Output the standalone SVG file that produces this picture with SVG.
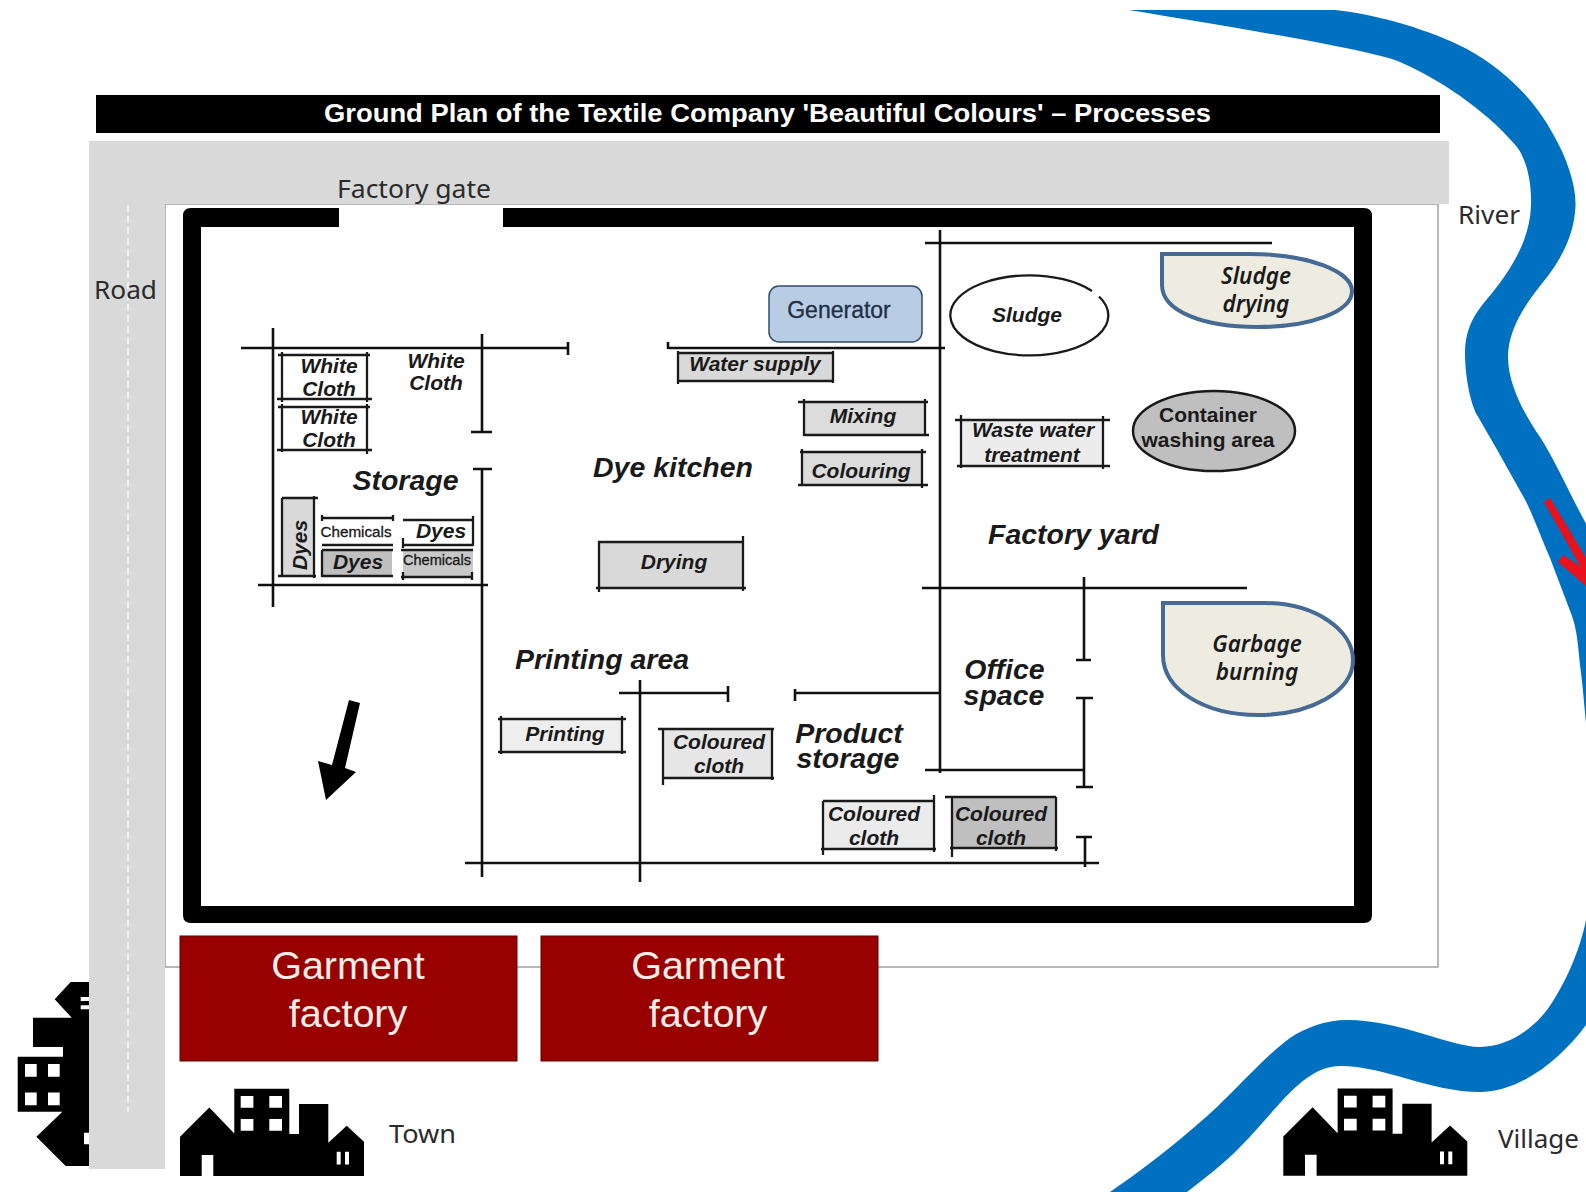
<svg xmlns="http://www.w3.org/2000/svg" xmlns:xlink="http://www.w3.org/1999/xlink" width="1586" height="1192" viewBox="0 0 1586 1192">
<style>
.s{font-family:"Liberation Sans",Arial,sans-serif;font-weight:700;font-style:italic;fill:#1a1a1a;font-size:21px;text-anchor:middle}
.l{font-size:28.5px}
.u{font-style:normal}
.c{font-family:"Noto Sans","Open Sans",sans-serif;font-size:26px;fill:#2b2b2b}
.n{font-family:"Noto Sans","Open Sans",sans-serif;font-weight:600;font-style:italic;font-size:22.5px;fill:#1a1a1a;text-anchor:middle}
.g{font-family:"Liberation Sans",Arial,sans-serif;font-size:39.5px;fill:#fbeee8;text-anchor:middle}
.w{fill:none;stroke:#111;stroke-width:2.6}
.k{fill:none;stroke:#1a1a1a;stroke-width:2.3}
.t{fill:#eeece1;stroke:#456a96;stroke-width:4}
.f{fill:#990000;stroke:#5c0000;stroke-width:1}
</style>
<defs>
<g id="town">
<path fill="#000" d="M0 87.3V48L29.3 18.7 54.3 44.7V0H109.3V45.3H119V15.3H148.3V54L166.7 37 184 53V87.3H33.3V66.3H21.7V87.3Z"/>
<path fill="#fff" d="M60.7 7.3h12.7v11.700h-12.700zM89.3 7.3h12.700v11.700h-12.700zM60.7 30.300h12.700v11.700h-12.700zM89.3 30.300h12.700v11.700h-12.700zM156.7 63h4v12.700h-4zM165 63h4v12.700h-4z"/>
</g>
</defs>
<rect width="1586" height="1192" fill="#fff"/>
<g id="river">
<path fill="#0070c0" d="M1129 10H1335C1380 15 1430 30 1467 49C1505 70 1535 100 1553 134C1568 160 1578 190 1575 212C1572 245 1553 270 1540 286C1525 305 1508 330 1508 357C1508 385 1525 415 1540 437C1555 460 1570 495 1590 531V723H1586C1583 690 1582 680 1580 665C1578 645 1577 630 1572 616L1550 558C1540 535 1532 512 1523 496C1512 476 1490 437 1477 415C1470 402 1465 375 1465 353C1465 332 1472 318 1483 304C1497 287 1530 250 1531 205C1532 180 1525 157 1517 147C1493 118 1450 84 1400 62C1370 50 1250 30 1129 10Z"/>
<path fill="#0070c0" d="M1586 920C1580 950 1565 985 1547 1010C1530 1032 1505 1047 1480 1047C1450 1047 1400 1020 1347 1020C1325 1020 1305 1028 1290 1038C1270 1052 1240 1085 1217 1107C1190 1132 1150 1165 1110 1192H1187C1205 1178 1225 1163 1240 1147C1255 1132 1268 1116 1280 1103C1295 1087 1315 1066 1340 1066C1385 1066 1430 1092 1480 1092C1520 1092 1560 1060 1586 1025Z"/>
<path fill="#e8111c" d="M1544 502L1550 498 1586 558V586L1558 562 1563 555 1580 566Z"/>
<text class="c" x="1458" y="224" textLength="62" lengthAdjust="spacingAndGlyphs">River</text>
</g>
<rect id="site" x="165" y="204" width="1273" height="763" fill="#fff" stroke="#a0a0a0" stroke-width="1.5"/>
<use id="building-left" xlink:href="#town" href="#town" transform="matrix(0 -1 1 0 17.7 1166)"/>
<g id="road">
<path fill="#d9d9d9" d="M89 141H1449V204H165V1169H89Z"/>
<path d="M128 205V1112" stroke="#fff" stroke-width="1.2" stroke-dasharray="7 4" fill="none"/>
<text class="c" x="94" y="299" textLength="63" lengthAdjust="spacingAndGlyphs">Road</text>
<text class="c" x="337" y="198" textLength="154" lengthAdjust="spacingAndGlyphs">Factory gate</text>
</g>
<g id="title">
<rect x="96" y="95" width="1344" height="38" fill="#000"/>
<text x="324" y="122" font-family="Liberation Sans, Arial, sans-serif" font-weight="700" font-size="26" fill="#fff" textLength="887" lengthAdjust="spacingAndGlyphs">Ground Plan of the Textile Company 'Beautiful Colours' – Processes</text>
</g>
<g id="factory-wall">
<path fill="#000" fill-rule="evenodd" d="M339 208H191Q183 208 183 216V915Q183 923 191 923H1364Q1372 923 1372 915V216Q1372 208 1364 208H503V227H1354V906H201V227H339Z"/>
</g>
<g id="walls">
<path class="w" d="M273 328V607M241 348H568M568 342V355M482 334V432M471 432H492M473 469H492M482 469V877M258 585H488"/>
<path class="w" d="M668 342V349M668 348H945M940 230V773M925 243H1272M922 588H1247M1084 577V660M1076 660H1091M1076 698H1093M1084 698V787M1076 787H1093M925 770H1084"/>
<path class="w" d="M640 680V882M619 693H728M728 686V702M795 689V701M795 693H940M1076 837H1092M1085 837V867M465 863H1099"/>
</g>
<g id="white-cloth-1">
<path class="k" d="M278 355H370M282 352V402M367 352V402M277 399H372"/>
<text class="s" x="329" y="373">White</text><text class="s" x="329" y="396">Cloth</text>
</g>
<g id="white-cloth-2">
<path class="k" d="M278 407H370M282 404V452M367 404V454M277 450H372"/>
<text class="s" x="329" y="424">White</text><text class="s" x="329" y="447">Cloth</text>
</g>
<g id="white-cloth-3"><text class="s" x="436" y="368">White</text><text class="s" x="436" y="390">Cloth</text></g>
<g id="storage"><text class="s l" x="405.500" y="490">Storage</text></g>
<g id="dyes-vertical">
<rect x="282" y="498" width="31" height="78" fill="#d9d9d9"/>
<path class="k" d="M282 498H318M314 496V578M282 498V576M278 576H316"/>
<text class="s" transform="translate(307 545) rotate(-90)" x="0" y="0" font-size="20">Dyes</text>
</g>
<g id="chemicals-1">
<path class="k" d="M322 518H393M322 515V521M393 515V521M322 545H393"/>
<text class="s u" x="356" y="537" style="font-size:14px;font-weight:400" textLength="71" lengthAdjust="spacingAndGlyphs" stroke="#1a1a1a" stroke-width=".3">Chemicals</text>
</g>
<g id="dyes-box">
<path class="k" d="M403 520H473M473 516V546M403 545H473M403 538V548"/>
<text class="s" x="441" y="538">Dyes</text>
</g>
<g id="dyes-grey">
<rect x="322" y="550" width="70" height="26" fill="#bfbfbf"/>
<path class="k" d="M322 550H393M322 550V577M322 576H393"/>
<text class="s" x="358" y="569">Dyes</text>
</g>
<g id="chemicals-2">
<rect x="403" y="550" width="70" height="27" fill="#c8c8c8"/>
<path class="k" d="M401 550H473M401 577H473M403 572V580M472 572V580"/>
<text class="s u" x="437" y="565" style="font-size:14px;font-weight:400" textLength="68" lengthAdjust="spacingAndGlyphs" stroke="#1a1a1a" stroke-width=".3">Chemicals</text>
</g>
<g id="dye-kitchen"><text class="s l" x="673" y="477">Dye kitchen</text></g>
<g id="generator">
<rect x="769" y="286" width="153" height="56" rx="10" fill="#b8cce4" stroke="#2f4b6e" stroke-width="1.5"/>
<text x="839" y="318" font-family="Liberation Sans, Arial, sans-serif" font-size="23" fill="#1f2f47" text-anchor="middle" stroke="#1f2f47" stroke-width=".3">Generator</text>
</g>
<g id="water-supply">
<rect x="678" y="353" width="155" height="28" fill="#d9d9d9"/>
<path class="k" d="M678 353H833M678 351V384M833 351V383M678 381H833"/>
<text class="s" x="755" y="371">Water supply</text>
</g>
<g id="mixing">
<rect x="804" y="402" width="121" height="33" fill="#dcdcdc"/>
<path class="k" d="M798 402H928M804 399V436M925 399V436M804 435H929"/>
<text class="s" x="863" y="423">Mixing</text>
</g>
<g id="colouring">
<rect x="802" y="452" width="120" height="33" fill="#dcdcdc"/>
<path class="k" d="M800 452H926M802 449V486M922 449V488M798 485H928"/>
<text class="s" x="861" y="478">Colouring</text>
</g>
<g id="drying">
<rect x="599" y="542" width="144" height="46" fill="#d9d9d9"/>
<path class="k" d="M598 542H743M599 541V592M743 536V591M596 588H746"/>
<text class="s" x="674" y="569">Drying</text>
</g>
<g id="sludge">
<path class="k" d="M1099 296.500A79 40 0 1 1 1092 291"/>
<text class="s" x="1027" y="322">Sludge</text>
</g>
<g id="sludge-drying">
<path class="t" d="M1162 254H1250C1310 254 1352 272 1352 291C1352 312 1310 327 1257 327C1205 327 1162 312 1162 285Z"/>
<text class="n" x="1256" y="284">Sludge</text><text class="n" x="1256" y="312">drying</text>
</g>
<g id="waste-water">
<rect x="961" y="420" width="142" height="46" fill="#ececec"/>
<path class="k" d="M955 420H1110M961 415V468M1103 416V469M957 466H1110"/>
<text class="s" x="1033" y="437">Waste water</text><text class="s" x="1032" y="462">treatment</text>
</g>
<g id="container-washing">
<ellipse cx="1214" cy="431" rx="81" ry="40" fill="#bfbfbf" stroke="#1a1a1a" stroke-width="2.500"/>
<text class="s u" x="1208" y="422">Container</text><text class="s u" x="1208" y="447">washing area</text>
</g>
<g id="factory-yard"><text class="s l" x="1073.500" y="544" textLength="171" lengthAdjust="spacing">Factory yard</text></g>
<g id="garbage-burning">
<path class="t" d="M1163 603H1265C1315 603 1353 630 1353 660C1353 692 1310 715 1258 715C1205 715 1163 690 1163 655Z"/>
<text class="n" x="1257" y="652">Garbage</text><text class="n" x="1257" y="680">burning</text>
</g>
<g id="office-space"><text class="s l" x="1004.500" y="679">Office</text><text class="s l" x="1004" y="705">space</text></g>
<g id="printing-area"><text class="s l" x="602" y="669">Printing area</text></g>
<g id="printing">
<rect x="501" y="719" width="121" height="33" fill="#eeeeee"/>
<path class="k" d="M498 719H626M501 716V754M622 716V754M498 752H626"/>
<text class="s" x="565" y="741">Printing</text>
</g>
<g id="coloured-cloth-1">
<rect x="663" y="729" width="109" height="49" fill="#e6e6e6"/>
<path class="k" d="M658 729H774M663 729V785M772 729V780M663 778H774"/>
<text class="s" x="719" y="749">Coloured</text><text class="s" x="719" y="773">cloth</text>
</g>
<g id="product-storage"><text class="s l" x="849" y="743">Product</text><text class="s l" x="848" y="768">storage</text></g>
<g id="coloured-cloth-2">
<rect x="823" y="801" width="110.500" height="48" fill="#ebebeb"/>
<path class="k" d="M823 801H933M823 801V855M934 795V852M821 849H936"/>
<text class="s" x="874" y="821">Coloured</text><text class="s" x="874" y="845">cloth</text>
</g>
<g id="coloured-cloth-3">
<rect x="952" y="797" width="104" height="51" fill="#bfbfbf"/>
<path class="k" d="M945 797H1056M952 797V857M1056 797V851M950 848H1058"/>
<text class="s" x="1001" y="821">Coloured</text><text class="s" x="1001" y="845">cloth</text>
</g>
<polygon id="north-arrow" fill="#000" points="349,700 360,703 345,768 356,772 326,800 318,761 332,765"/>
<g id="garment-factory-1">
<rect class="f" x="180" y="936" width="337" height="125"/>
<text class="g" x="348" y="979">Garment</text><text class="g" x="348" y="1027">factory</text>
</g>
<g id="garment-factory-2">
<rect class="f" x="541" y="936" width="337" height="125"/>
<text class="g" x="708" y="979">Garment</text><text class="g" x="708" y="1027">factory</text>
</g>
<g id="town-group">
<use xlink:href="#town" href="#town" transform="translate(180 1088.700)"/>
<text class="c" x="389" y="1143" textLength="67" lengthAdjust="spacingAndGlyphs">Town</text>
</g>
<g id="village-group">
<use xlink:href="#town" href="#town" transform="translate(1283.300 1088.500)"/>
<text class="c" x="1498" y="1148" textLength="81" lengthAdjust="spacingAndGlyphs">Village</text>
</g>
</svg>
